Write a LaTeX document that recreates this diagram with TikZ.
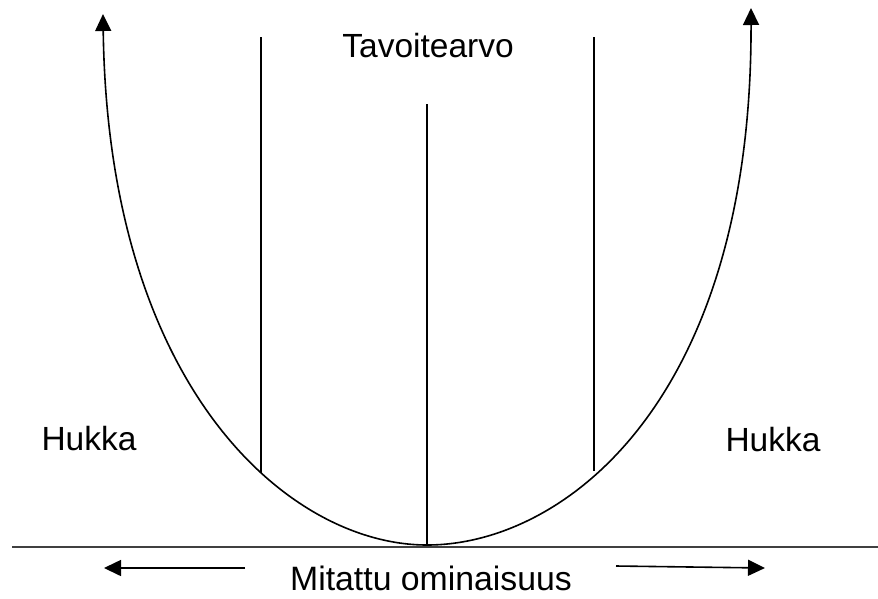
\documentclass[tikz,border=0pt]{standalone}
\usepackage{fontspec}
\setmainfont{Liberation Sans}
\usetikzlibrary{arrows.meta}
\begin{document}
\begin{tikzpicture}[x=1pt,y=-1pt,
  ln/.style={line width=1.6pt, black},
  base/.style={line width=2.4pt, black!75},
  tip/.style={-{Triangle[length=17pt,width=16pt]}},
  lbl/.style={anchor=base, inner sep=0pt, font=\fontsize{33.5}{40}\selectfont}]
\useasboundingbox (0,0) rectangle (878,598);
% key points
\coordinate (bot) at (427,545);
\coordinate (ltop) at (103,14);
\coordinate (rtop) at (751,8);
\coordinate (bl) at (12,547);
\coordinate (br) at (878,547);
\coordinate (v1t) at (261,37);
\coordinate (v1b) at (261,473);
\coordinate (v2t) at (427,104);
\coordinate (v3t) at (594,37);
\coordinate (v3b) at (594,471);
\coordinate (al1) at (245,568);
\coordinate (al2) at (104,568);
\coordinate (ar1) at (616,566);
\coordinate (ar2) at (765,568);
% base line
\draw[base] (bl) -- (br);
% curve
\draw[ln,tip] (bot) .. controls (290,545) and (108,390) .. (ltop);
\draw[ln,tip] (bot) .. controls (565,545) and (752,400) .. (rtop);
% verticals
\draw[ln] (v1t) -- (v1b);
\draw[ln] (v2t) -- (bot);
\draw[ln] (v3t) -- (v3b);
% bottom arrows
\draw[ln,tip] (al1) -- (al2);
\draw[ln,tip] (ar1) -- (ar2);
% labels
\node[lbl] (tav) at (428,57) {Tavoitearvo};
\node[lbl] (hl) at (89,450) {Hukka};
\node[lbl] (hr) at (773,451) {Hukka};
\node[lbl, font=\fontsize{33.8}{40}\selectfont] (mit) at (431,590) {Mitattu ominaisuus};
\end{tikzpicture}
\end{document}
